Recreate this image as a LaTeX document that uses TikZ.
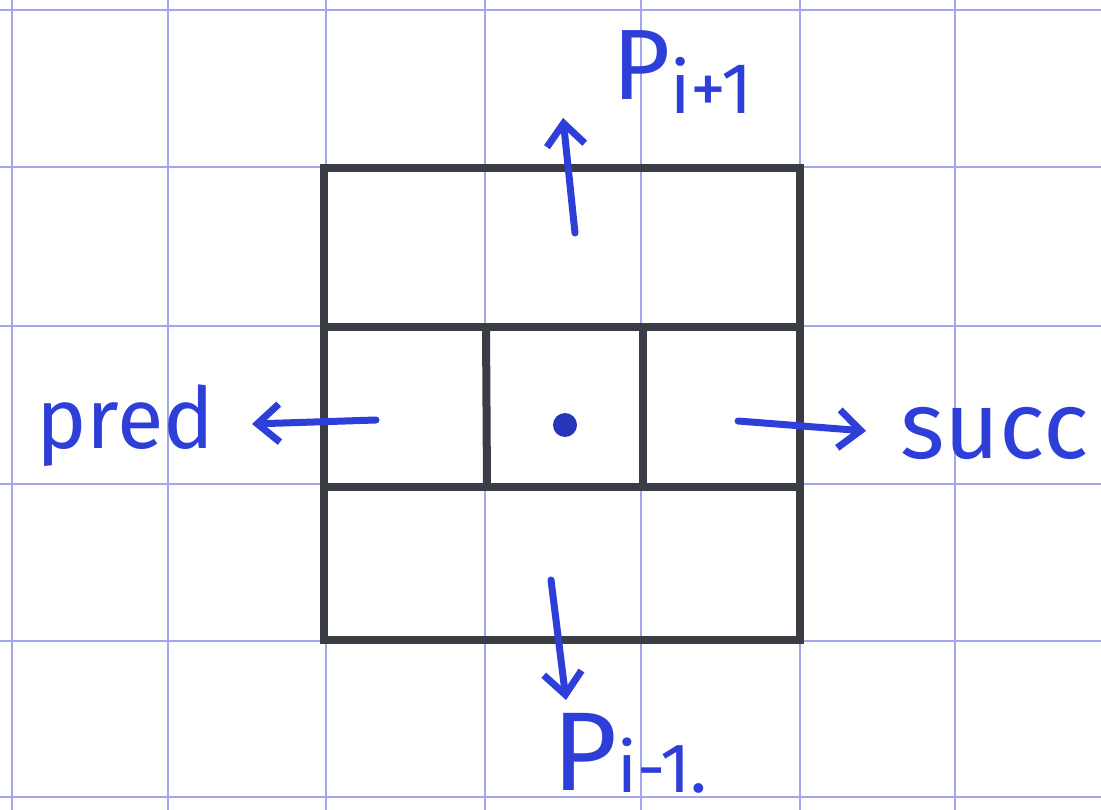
\documentclass[tikz,border=0pt]{standalone}
\usepackage{fontspec}
\setmainfont{Fira Sans}
\usetikzlibrary{arrows.meta}
\definecolor{gridblue}{HTML}{A3A6EC}
\definecolor{ink}{HTML}{3A3D44}
\definecolor{pen}{HTML}{2E3FD9}
\tikzset{
  gridline/.style={draw=gridblue, line width=2pt},
  boxline/.style={draw=ink, line width=8pt, line cap=round},
  penarrow/.style={draw=pen, line width=7pt, line cap=round,
    -{Straight Barb[length=22pt, width=38pt, line width=7pt]}},
  pentext/.style={text=pen, inner sep=0pt, anchor=base west},
}
\begin{document}
\begin{tikzpicture}[x=1pt,y=-1pt]
\useasboundingbox (0,0) rectangle (1101,810);
\fill[white] (0,0) rectangle (1101,810);
% grid paper
\foreach \gx in {12,168,326,485,641,800,955} {\draw[gridline] (\gx,0) -- (\gx,810);}
\foreach \gy in {10,167,326,484,641,797} {\draw[gridline] (0,\gy) -- (1101,\gy);}
% box
\draw[boxline] (324,168) rectangle (800,640);
\draw[boxline] (324,327) -- (800,327);
\draw[boxline] (324,487) -- (800,487);
\draw[boxline] (486,327) -- (487,487);
\draw[boxline] (643,327) -- (643,487);
% centre dot
\node[circle, fill=pen!85!black, minimum size=24pt, inner sep=0pt] (dot) at (565,425) {};
% arrow end points
\coordinate (upS) at (575,233);
\coordinate (upE) at (563,118);
\coordinate (dnS) at (551,580);
\coordinate (dnE) at (566,700);
\coordinate (lfS) at (376,420);
\coordinate (lfE) at (252,424);
\coordinate (rtS) at (738,421);
\coordinate (rtE) at (866,431);
\draw[penarrow] (upS) -- (upE);
\draw[penarrow] (dnS) -- (dnE);
\draw[penarrow] (lfS) -- (lfE);
\draw[penarrow] (rtS) -- (rtE);
% labels
\node[pentext] (pup) at (612,100) {\fontsize{100}{100}\selectfont P\raisebox{-14pt}{\fontsize{72}{72}\selectfont i+1}};
\node[pentext] (pdn) at (552,790) {\fontsize{112}{112}\selectfont P\raisebox{-2pt}{\fontsize{70}{70}\selectfont i-1.}};
\node[pentext] (pred) at (36,448) {\fontsize{85}{85}\selectfont pred};
\node[pentext] (succ) at (900,458) {\fontsize{95}{95}\selectfont succ};
\end{tikzpicture}
\end{document}
